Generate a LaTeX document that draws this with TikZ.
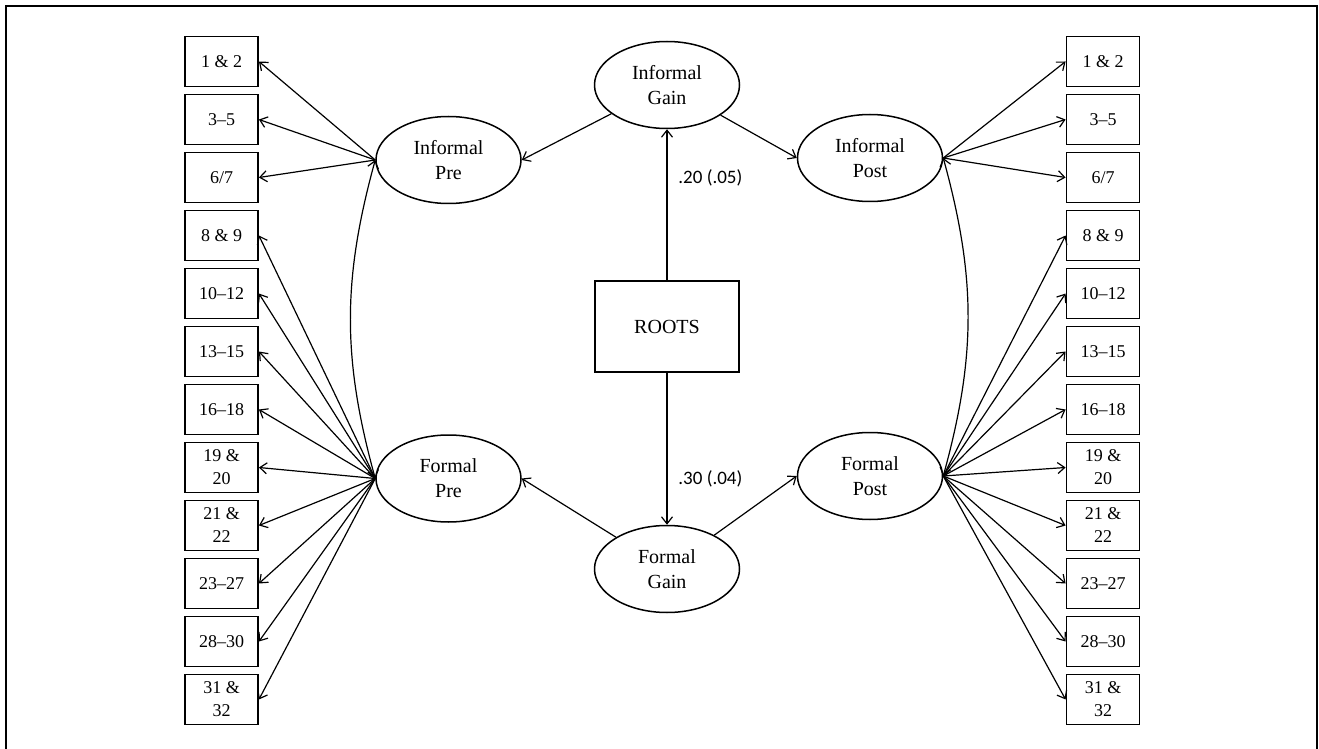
\documentclass[tikz,border=0pt]{standalone}
\usepackage{fontspec}
\setmainfont{Liberation Serif}
\newfontfamily\coeffont{Carlito}
\usetikzlibrary{shapes.geometric,arrows.meta}
\begin{document}
\begin{tikzpicture}[x=0.5pt,y=-0.5pt,
  ind/.style={draw,line width=0.9pt,minimum width=36.5pt,minimum height=25pt,inner sep=0pt,align=center,font=\fontsize{9}{11.5}\selectfont},
  lat/.style={draw,ellipse,line width=0.75pt,minimum width=72.5pt,minimum height=43.5pt,inner sep=0pt,align=center,font=\fontsize{10}{12.5}\selectfont},
  obs/.style={draw,line width=0.75pt,minimum width=72pt,minimum height=45.5pt,inner sep=0pt,font=\fontsize{10}{12}\selectfont},
  arr/.style={line width=0.6pt,-{Straight Barb[length=3.5pt,width=5.5pt]}},
  darr/.style={line width=0.6pt,{Straight Barb[length=3.5pt,width=5.5pt]}-{Straight Barb[length=3.5pt,width=5.5pt]}},
  coef/.style={font=\coeffont\fontsize{9.5}{11}\selectfont,anchor=west,inner sep=0pt}]
\useasboundingbox (0,0) rectangle (1319,749);
\draw[line width=1pt] (6,749) -- (6,6) -- (1317,6) -- (1317,749);
% indicator boxes
\foreach \t [count=\i] in {{1 \& 2},{3--5},{6/7},{8 \& 9},{10--12},{13--15},{16--18},{19 \&\\20},{21 \&\\22},{23--27},{28--30},{31 \&\\32}} {
  \node[ind] (L\i) at (221.5,{61.5+58*(\i-1)}) {\t};
  \node[ind] (R\i) at (1103,{61.5+58*(\i-1)}) {\t};
}
% latent variables
\node[lat] (ipre) at (448.5,160) {Informal\\Pre};
\node[lat] (fpre) at (448.5,478.5) {Formal\\Pre};
\node[lat] (ipost) at (870,158) {Informal\\Post};
\node[lat] (fpost) at (870,476) {Formal\\Post};
\node[lat] (igain) at (667,85) {Informal\\Gain};
\node[lat] (fgain) at (667,569) {Formal\\Gain};
\node[obs] (roots) at (667,326.5) {ROOTS};
% loadings
\foreach \i in {1,2,3} {
  \draw[arr] (ipre.west) -- (L\i.east);
  \draw[arr] (ipost.east) -- (R\i.west);
}
\foreach \i in {4,...,12} {
  \draw[arr] (fpre.west) -- (L\i.east);
  \draw[arr] (fpost.east) -- (R\i.west);
}
% structural paths
\draw[arr] (igain) -- (ipre.east);
\draw[arr] (igain) -- (ipost.west);
\draw[arr] (fgain) -- (fpre.east);
\draw[arr] (fgain) -- (fpost.west);
\draw[arr] (roots) -- (igain);
\draw[arr] (roots) -- (fgain);
% covariances
\draw[darr] (ipre.west) .. controls +(-33,120) and +(-33,-120) .. (fpre.west);
\draw[darr] (ipost.east) .. controls +(33,120) and +(33,-120) .. (fpost.east);
% coefficients
\node[coef] (c1) at (678,178) {.20 (.05)};
\node[coef] (c2) at (678,479) {.30 (.04)};
\end{tikzpicture}
\end{document}
